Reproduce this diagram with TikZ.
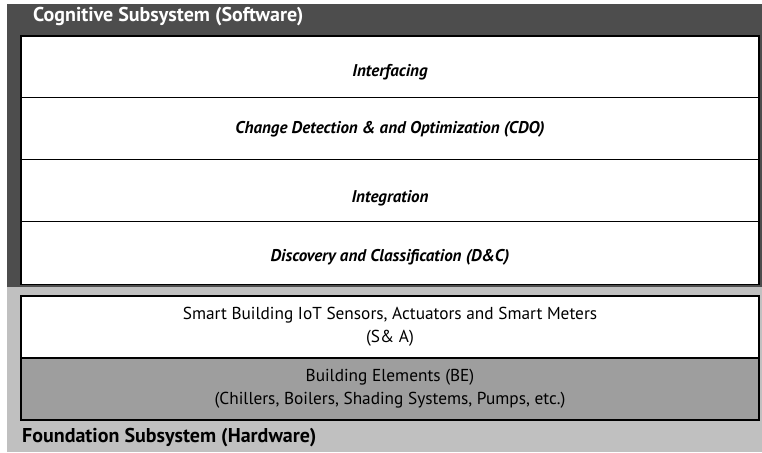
\documentclass[tikz,border=0pt]{standalone}
\usepackage{fontspec}
\setmainfont{PT Sans}
\usetikzlibrary{positioning}

\definecolor{softgray}{HTML}{4D4D4D}
\definecolor{hardgray}{HTML}{C0C0C0}
\definecolor{begray}{HTML}{9E9E9E}

\begin{document}
\begin{tikzpicture}
[x=1pt,y=-1pt,
 layer/.style={draw=black,line width=1.8pt,fill=white,outer sep=0pt,inner sep=0pt,
   minimum width=738pt,minimum height=62pt,align=center},
 softtext/.style={inner sep=0pt,font=\bfseries\itshape\fontsize{17}{20}\selectfont},
 hardlayer/.style={layer,font=\fontsize{17.3}{23}\selectfont},
 title/.style={anchor=west,inner sep=0pt,font=\bfseries\fontsize{20}{23}\selectfont}]
\useasboundingbox (0,0) rectangle (762,452);
% two subsystem panels
\fill[softgray] (7,4) rectangle (762,287);
\fill[hardgray] (7,287) rectangle (762,452);

\node[title,text=white] (soft) at (33,17) {Cognitive Subsystem (Software)};
\node[title,text=black] (hard) at (22,438) {Foundation Subsystem (Hardware)};

% software layers
\node[layer,anchor=north west,minimum height=61.5pt] (ifc) at (21,36) {};
\node[layer,below=0pt of ifc] (cdo) {};
\node[layer,below=0pt of cdo] (intg) {};
\node[layer,below=0pt of intg,minimum height=63pt] (dc) {};
\node[softtext] (ifc-t) at ([yshift=-5pt]ifc.center) {Interfacing};
\node[softtext] (cdo-t) at ([yshift=-1pt]cdo.center) {Change Detection \& and Optimization (CDO)};
\node[softtext] (intg-t) at ([yshift=-8pt]intg.center) {Integration};
\node[softtext] (dc-t) at ([yshift=-4pt]dc.center) {Discovery and Classification (D\&C)};

% hardware layers
\node[hardlayer,anchor=north west] (sa) at (21,296) {Smart Building IoT Sensors, Actuators and Smart Meters\\(S\& A)};
\node[hardlayer,fill=begray,below=0pt of sa] (be) {Building Elements (BE)\\(Chillers, Boilers, Shading Systems, Pumps, etc.)};

\end{tikzpicture}
\end{document}
